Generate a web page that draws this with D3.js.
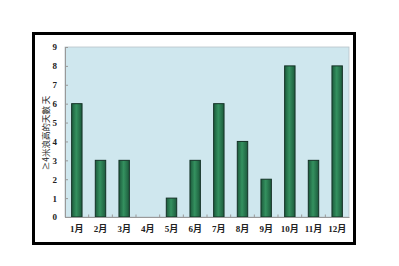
<!DOCTYPE html>
<html><head><meta charset="utf-8">
<script src="https://cdn.jsdelivr.net/npm/d3@7"></script>
<style>body{margin:0;background:#fff;}svg{display:block;}</style>
</head><body>
<svg id="c" width="399" height="266"></svg>
<script>
const months = ["1月","2月","3月","4月","5月","6月","7月","8月","9月","10月","11月","12月"];
const days = [6,3,3,0,1,3,6,4,2,8,3,8];
const yTicks = [0,1,2,3,4,5,6,7,8,9];
const yTitle = "≥4米浪高的天數 天";

const svg = d3.select("#c");
const W = 399, H = 266;
const plot = {l:65, r:349, t:47, b:217};

// outer frame
svg.append("rect").attr("x",33.5).attr("y",33.5).attr("width",321).attr("height",210)
  .attr("fill","#fff").attr("stroke","#000").attr("stroke-width",3);

const defs = svg.append("defs");
const g = defs.append("linearGradient").attr("id","bg").attr("x1","0").attr("x2","1").attr("y1","0").attr("y2","0");
g.append("stop").attr("offset","0").attr("stop-color","#1c5a3c");
g.append("stop").attr("offset","0.45").attr("stop-color","#34915f");
g.append("stop").attr("offset","1").attr("stop-color","#1c5a3c");

const x = d3.scaleBand().domain(months).range([plot.l, plot.r]).paddingInner(0.56).paddingOuter(0.28);
const y = d3.scaleLinear().domain([0,9]).range([plot.b, plot.t]);

svg.append("rect").attr("x",plot.l).attr("y",plot.t).attr("width",plot.r-plot.l).attr("height",plot.b-plot.t)
  .attr("fill","#cfe7ee").attr("stroke","#b8c4c8").attr("stroke-width",0.8);

svg.append("g").selectAll("rect").data(days).join("rect")
  .attr("x",(d,i)=>x(months[i])).attr("width",x.bandwidth())
  .attr("y",d=>y(d)).attr("height",d=>plot.b-y(d))
  .attr("fill","url(#bg)").attr("stroke","#143226").attr("stroke-width",1)
  .style("display",d=>d>0?null:"none");

// y axis
const ya = svg.append("g").attr("transform",`translate(${plot.l},0)`)
  .call(d3.axisLeft(y).tickValues(yTicks).tickSize(-3).tickPadding(8).tickFormat(d3.format("d")));
ya.select(".domain").attr("stroke","#999");
ya.selectAll(".tick line").attr("stroke","#999");
ya.selectAll("text").attr("font-family","'Liberation Serif',serif").attr("font-size",9).attr("font-weight","bold").attr("fill","#222");

// x axis
const xa = svg.append("g").attr("transform",`translate(0,${plot.b})`)
  .call(d3.axisBottom(x).tickSize(0).tickPadding(9));
xa.select(".domain").attr("stroke","#999");
xa.selectAll("text").attr("font-family","'Liberation Serif','Noto Sans CJK TC',serif").attr("font-size",9).attr("font-weight","bold").attr("fill","#222");
// category separator ticks
const step = x.step();
const bounds = d3.range(1, months.length).map(i => plot.l + (plot.r-plot.l)*i/months.length);
svg.append("g").selectAll("line").data(bounds).join("line")
  .attr("x1",d=>d).attr("x2",d=>d).attr("y1",plot.b).attr("y2",plot.b-2.5)
  .attr("stroke","#999").attr("stroke-width",1);

svg.append("text").attr("transform",`translate(49,${(plot.t+plot.b)/2+1}) rotate(-90)`)
  .attr("text-anchor","middle").attr("font-family","'Noto Sans CJK TC',sans-serif").attr("font-size",8.5)
  .attr("fill","#222").text(yTitle);
</script>
</body></html>
